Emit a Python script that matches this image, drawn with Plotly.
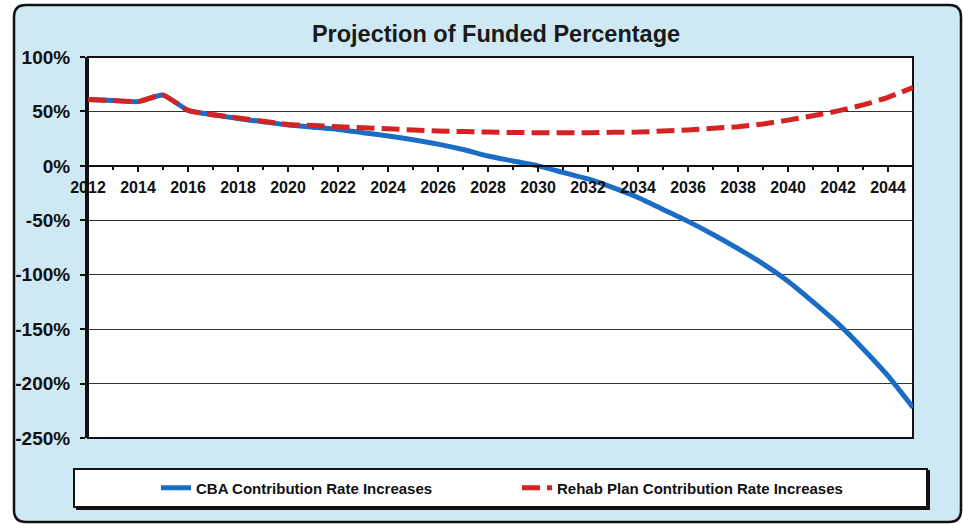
import plotly.graph_objects as go

# Projected funded percentage by plan year
years = list(range(2012, 2046))
cba_pct = [61, 60, 59, 65, 51, 47, 43.5, 40.5, 37.5, 35.5,
           33.5, 30.5, 27.5, 24, 20, 15, 9, 4.5, 0, -6,
           -12, -20, -29, -40, -51, -63, -76, -90, -106, -125,
           -145, -168, -193, -222]
rehab_pct = [61, 60, 59, 65, 51, 47, 44, 41, 38, 37,
             36, 35, 34, 33, 32, 31.5, 31, 30.6, 30.5, 30.4,
             30.5, 30.8, 31, 32, 33, 34.5, 36, 38.5, 42, 46,
             50.5, 56, 63, 72]

series_names = ["CBA Contribution Rate Increases",
                "Rehab Plan Contribution Rate Increases"]
y_tick_vals = [100, 50, 0, -50, -100, -150, -200, -250]
y_tick_text = ["100%", "50%", "0%", "-50%", "-100%", "-150%", "-200%", "-250%"]
x_tick_vals = list(range(2012, 2045, 2))
x_tick_text = [str(v) for v in x_tick_vals]

W, H = 963, 525
ML, MR, MT, MB = 88, 50, 57, 87
PW, PH = W - ML - MR, H - MT - MB

BLUE = "#1b6cc4"
RED = "#d42322"
PANEL = "#cee9f4"
FONT = "Liberation Sans, Arial, sans-serif"


def px(x):
    return (x - ML) / PW


def py(y):
    return (H - MB - y) / PH


def rounded_rect(x0, y0, x1, y1, r):
    a0, a1 = px(x0), px(x1)
    b0, b1 = py(y0), py(y1)
    rx, ry = r / PW, r / PH
    return (f"M{a0 + rx},{b0} L{a1 - rx},{b0} Q{a1},{b0} {a1},{b0 - ry} "
            f"L{a1},{b1 + ry} Q{a1},{b1} {a1 - rx},{b1} "
            f"L{a0 + rx},{b1} Q{a0},{b1} {a0},{b1 + ry} "
            f"L{a0},{b0 - ry} Q{a0},{b0} {a0 + rx},{b0} Z")


fig = go.Figure()

fig.add_trace(go.Scatter(
    x=years, y=cba_pct, name=series_names[0], mode="lines",
    line=dict(color=BLUE, width=5, shape="spline", smoothing=0.5),
))
fig.add_trace(go.Scatter(
    x=years, y=rehab_pct, name=series_names[1], mode="lines",
    line=dict(color=RED, width=5, dash="18px,7px", shape="spline", smoothing=0.5),
))

shapes = [
    # light blue chart panel with rounded corners
    dict(type="path", xref="paper", yref="paper", layer="below",
         path=rounded_rect(14, 5, 961, 522, 12),
         fillcolor=PANEL, line=dict(color="#111111", width=2.5)),
    # white plot area
    dict(type="rect", xref="paper", yref="paper", layer="below",
         x0=0, x1=1, y0=0, y1=1, fillcolor="white",
         line=dict(color="#111111", width=2)),
    # legend box shadow and box
    dict(type="rect", xref="paper", yref="paper", layer="below",
         x0=px(76), x1=px(930), y0=py(470), y1=py(510),
         fillcolor="#111111", line=dict(width=0)),
    dict(type="rect", xref="paper", yref="paper", layer="below",
         x0=px(74), x1=px(927), y0=py(469), y1=py(507),
         fillcolor="white", line=dict(color="#111111", width=2)),
]

fig.update_layout(
    width=W, height=H,
    margin=dict(l=ML, r=MR, t=MT, b=MB),
    paper_bgcolor="white",
    plot_bgcolor="rgba(0,0,0,0)",
    font=dict(family=FONT, color="#111111"),
    title=dict(text="Projection of Funded Percentage",
               font=dict(size=23.5, weight="bold", family=FONT, color="#1a1a1a"),
               x=px(496), xref="paper", xanchor="center",
               y=1 - 34 / H, yref="container", yanchor="middle"),
    shapes=shapes,
    showlegend=True,
    legend=dict(orientation="h", x=px(156), xanchor="left",
                y=py(488), yanchor="middle",
                bgcolor="rgba(0,0,0,0)", borderwidth=0,
                entrywidth=316, entrywidthmode="pixels",
                font=dict(size=15, weight="bold", family=FONT, color="#111111")),
    xaxis=dict(range=[2012, 2045], anchor="free", position=250 / 350,
               tickmode="array", tickvals=x_tick_vals, ticktext=x_tick_text,
               showgrid=False, zeroline=False,
               showline=True, linecolor="#111111", linewidth=2,
               ticks="outside", ticklen=5, tickwidth=2, tickcolor="#111111",
               minor=dict(dtick=1, tick0=2012, ticks="outside", ticklen=3,
                          tickwidth=1.5, tickcolor="#111111", showgrid=False),
               tickfont=dict(size=16, weight="bold", family=FONT, color="#111111"),
               ticklabelstandoff=2),
    xaxis2=dict(range=[2012, 2045], overlaying="x", matches="x",
                anchor="free", position=250 / 350,
                tickmode="array", tickvals=x_tick_vals,
                showticklabels=False, showgrid=False, zeroline=False,
                ticks="inside", ticklen=5, tickwidth=2, tickcolor="#111111",
                minor=dict(dtick=1, tick0=2012, ticks="inside", ticklen=3,
                           tickwidth=1.5, tickcolor="#111111", showgrid=False)),
    yaxis=dict(range=[-250, 100], tickmode="array",
               tickvals=y_tick_vals, ticktext=y_tick_text,
               showgrid=True, gridcolor="#333333", gridwidth=1,
               zeroline=False, showline=True, linecolor="#111111", linewidth=3,
               ticks="outside", ticklen=5, tickwidth=1.5, tickcolor="#111111",
               tickfont=dict(size=19, weight="bold", family=FONT, color="#111111"),
               ticklabelstandoff=6),
)

fig.write_html("out.html")
